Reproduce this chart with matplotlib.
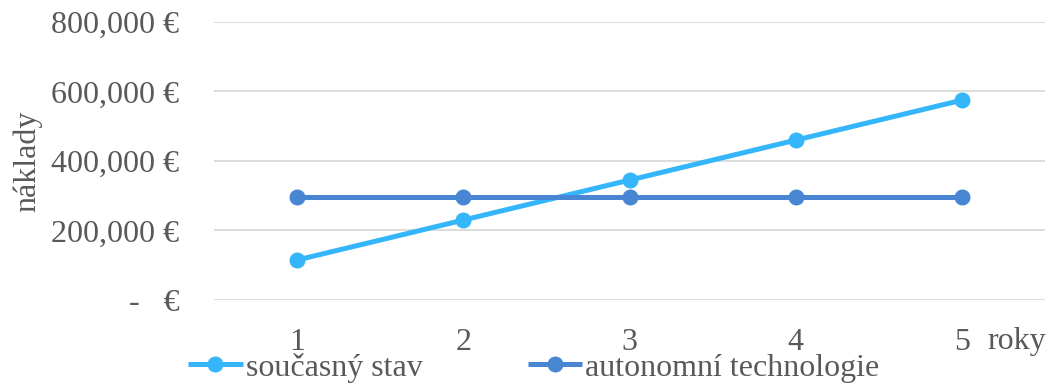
import matplotlib.pyplot as plt
from matplotlib.ticker import FuncFormatter

plt.rcParams['font.family'] = ['Liberation Serif', 'DejaVu Serif']

roky = [1, 2, 3, 4, 5]
soucasny_stav = [115000, 230000, 345000, 460000, 575000]
autonomni = [295000, 295000, 295000, 295000, 295000]
y_ticks = [0, 200000, 400000, 600000, 800000]

text_color = "#595959"
fs = 23

fig = plt.figure(figsize=(10.49, 3.83), dpi=100)
ax = fig.add_axes([0.204, 0.2167, 0.7922, 0.7259])

ax.plot(roky, soucasny_stav, color="#35B6FA", lw=3.6, marker="o", ms=10.5,
        label="současný stav", solid_capstyle="butt")
ax.plot(roky, autonomni, color="#4886D4", lw=3.6, marker="o", ms=10.5,
        label="autonomní technologie", solid_capstyle="butt")

ax.set_xlim(0.5, 5.5)
ax.set_ylim(0, 800000)
ax.set_xticks(roky)
ax.set_yticks(y_ticks)


def euro(v, pos):
    if v == 0:
        return "-   €"
    return f"{v:,.0f} €"


ax.yaxis.set_major_formatter(FuncFormatter(euro))
ax.grid(axis="y", color="#D9D9D9", lw=1.3)
ax.set_axisbelow(True)
for s in ax.spines.values():
    s.set_visible(False)
ax.tick_params(axis="both", length=0, labelsize=fs, colors=text_color)
ax.tick_params(axis="y", pad=25)
ax.tick_params(axis="x", pad=20)

fig.text(0.941, 0.088, "roky", fontsize=fs, color=text_color, ha="left", va="baseline")
fig.text(0.026, 0.58, "náklady", fontsize=fs, color=text_color, rotation=90,
         ha="center", va="center")

fig.legend(loc="center", bbox_to_anchor=(0.509, 0.04), ncol=2, frameon=False,
           fontsize=fs, labelcolor=text_color, handlelength=1.7, handletextpad=0.1,
           columnspacing=3.3, borderpad=0, borderaxespad=0)

fig.savefig("out.png", dpi=100)
